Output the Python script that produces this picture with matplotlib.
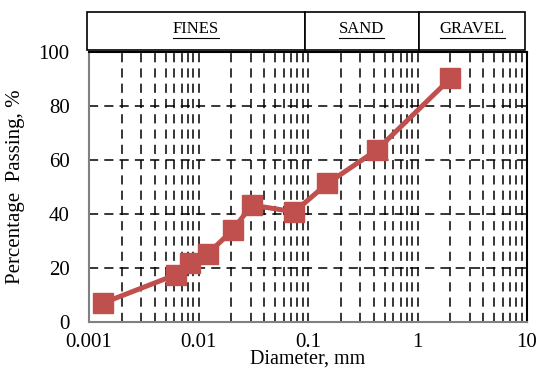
import matplotlib.pyplot as plt
from matplotlib.lines import Line2D
from matplotlib.patches import Rectangle
import numpy as np

plt.rcParams['font.family'] = ['Liberation Serif', 'DejaVu Serif']

# grain size data
diameter = [0.00134, 0.0062, 0.0083, 0.0121, 0.0205, 0.0306, 0.075, 0.15, 0.425, 2.0]
passing = [7.0, 17.5, 21.8, 25.2, 34.0, 43.3, 40.8, 51.3, 63.7, 90.2]

# soil classes for the header
classes = ['FINES', 'SAND', 'GRAVEL']
class_bounds = [0.001, 0.097, 1.08, 10]

x_ticks = [0.001, 0.01, 0.1, 1, 10]
x_ticklabels = ['0.001', '0.01', '0.1', '1', '10']
y_ticks = [0, 20, 40, 60, 80, 100]

W, H = 538, 372
fig = plt.figure(figsize=(W / 100, H / 100), dpi=100)
ax = fig.add_axes([89 / W, 1 - 322 / H, (527 - 89) / W, (322 - 52) / H])

ax.set_xscale('log')
ax.set_xlim(0.001, 10)
ax.set_ylim(0, 100)

# dashed grid, major + minor
ax.grid(True, which='major', axis='y', color='black', linestyle=(0, (6, 4)), linewidth=1.1)
ax.grid(True, which='both', axis='x', color='black', linestyle=(0, (6, 4)), linewidth=1.1)

ax.plot(diameter, passing, color='#C0504D', linewidth=3.6, marker='s',
        markersize=14, markerfacecolor='#C0504D', markeredgecolor='#C0504D', zorder=3)

ax.set_xticks(x_ticks)
ax.set_xticklabels(x_ticklabels)
ax.set_yticks(y_ticks)
ax.tick_params(which='both', length=0, labelsize=15)
ax.tick_params(axis='x', pad=8)
ax.tick_params(axis='y', pad=14)

for s in ['left', 'bottom']:
    ax.spines[s].set_color('#808080')
    ax.spines[s].set_linewidth(1.5)
for s in ['right', 'top']:
    ax.spines[s].set_color('black')
    ax.spines[s].set_linewidth(1.5)

ax.set_xlabel('Diameter, mm', fontsize=14.5, labelpad=-1.5)
ax.set_ylabel('Percentage  Passing, %', fontsize=15, labelpad=10)

# header boxes
hx = fig.add_axes([87 / W, 1 - 50 / H, (525 - 87) / W, (50 - 12) / H])
hx.set_xscale('log')
hx.set_xlim(class_bounds[0], class_bounds[-1])
hx.set_ylim(0, 1)
hx.axis('off')
texts = []
for name, lo, hi in zip(classes, class_bounds[:-1], class_bounds[1:]):
    hx.add_patch(Rectangle((lo, 0), hi - lo, 1, facecolor='white', edgecolor='black',
                           linewidth=1.2, clip_on=False))
    t = hx.text(np.sqrt(lo * hi), 0.55, name, ha='center', va='center', fontsize=12)
    texts.append(t)

fig.canvas.draw()
r = fig.canvas.get_renderer()
for t in texts:
    bb = t.get_window_extent(r)
    y = bb.y0 - 1
    fig.add_artist(Line2D([bb.x0 / W, bb.x1 / W], [y / H, y / H], color='black',
                          linewidth=0.8, transform=fig.transFigure))

fig.savefig('out.png', dpi=100)
